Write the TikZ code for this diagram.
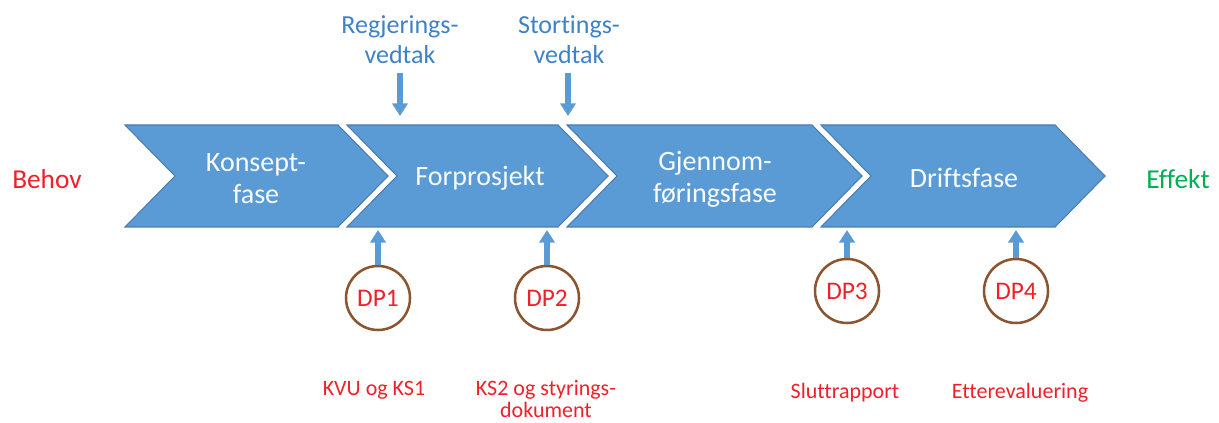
\documentclass[tikz,border=0pt]{standalone}
\usepackage{fontspec}
\setmainfont{Carlito}[Ligatures={NoCommon}]
\usetikzlibrary{arrows.meta}

\definecolor{phaseblue}{HTML}{5B9BD5}
\definecolor{phaseedge}{HTML}{4A7DB0}
\definecolor{labelblue}{HTML}{3F82C6}
\definecolor{dpred}{HTML}{F0202A}
\definecolor{dpbrown}{HTML}{8A5530}
\definecolor{effgreen}{HTML}{00B050}

\begin{document}
\begin{tikzpicture}[x=0.75pt,y=-0.75pt,
  phase/.style={fill=phaseblue,draw=phaseedge,line width=0.8pt,line join=miter},
  phasetext/.style={text=white!96!phaseblue,font=\fontsize{21}{24}\selectfont,align=center,inner sep=0pt},
  topnote/.style={text=labelblue,font=\fontsize{19.5}{22.5}\selectfont,align=center,inner sep=0pt},
  endnote/.style={font=\fontsize{20.5}{24}\selectfont,inner sep=0pt},
  dpcircle/.style={circle,draw=dpbrown,line width=1.9pt,minimum size=48pt,inner sep=0pt,
                   text=dpred,font=\fontsize{19}{22}\selectfont},
  dpnote/.style={text=dpred,font=\fontsize{16.5}{17}\selectfont,align=center,inner sep=0pt},
  blockarrow/.style={draw=phaseblue,line width=3.8pt,
                     -{Triangle[width=11.5pt,length=9.5pt]}}
]
\useasboundingbox (0,0) rectangle (1219,423);

% four phase chevrons, separated by a narrow white gap
\draw[phase] (125,125) -- (338,125) -- (388,176) -- (338,227) -- (125,227) -- (175,176) -- cycle;
\draw[phase] (347,125) -- (558,125) -- (608,176) -- (558,227) -- (347,227) -- (397,176) -- cycle;
\draw[phase] (567,125) -- (812,125) -- (862,176) -- (812,227) -- (567,227) -- (617,176) -- cycle;
\draw[phase] (821,125) -- (1055,125) -- (1105,176) -- (1055,227) -- (821,227) -- (871,176) -- cycle;

% phase names
\node[phasetext] (konsept) at (256,179) {Konsept-\\fase};
\node[phasetext] (forprosjekt) at (480,178) {Forprosjekt};
\node[phasetext] (gjennom) at (715,179) {Gjennom-\\føringsfase};
\node[phasetext] (drift) at (964,178) {Driftsfase};

% start and end
\node[endnote,text=dpred] (behov) at (47,179) {Behov};
\node[endnote,text=effgreen] (effekt) at (1178,179) {Effekt};

% decisions above the line
\node[topnote] (regjering) at (400,40) {Regjerings-\\vedtak};
\node[topnote] (storting) at (569,40) {Stortings-\\vedtak};
\coordinate (regtop) at (400,73);
\coordinate (regend) at (400,116);
\coordinate (stotop) at (568,73);
\coordinate (stoend) at (568,116);
\draw[blockarrow] (regtop) -- (regend);
\draw[blockarrow] (stotop) -- (stoend);

% decision points below the line
\node[dpcircle] (dp1) at (378,298) {DP1};
\node[dpcircle] (dp2) at (547,298) {DP2};
\node[dpcircle] (dp3) at (847,291) {DP3};
\node[dpcircle] (dp4) at (1016,291) {DP4};

\coordinate (in1) at (378,230);
\coordinate (in2) at (547,230);
\coordinate (in3) at (847,230);
\coordinate (in4) at (1016,230);
\draw[blockarrow] (dp1.north) -- (in1);
\draw[blockarrow] (dp2.north) -- (in2);
\draw[blockarrow] (dp3.north) -- (in3);
\draw[blockarrow] (dp4.north) -- (in4);

% documents at each decision point
\node[dpnote] (kvu) at (374,390) {KVU og KS1};
\node[dpnote] (ks2) at (546,399) {KS2 og styrings-\\dokument};
\node[dpnote] (slutt) at (845,393) {Sluttrapport};
\node[dpnote] (etter) at (1020,393) {Etterevaluering};
\end{tikzpicture}
\end{document}
